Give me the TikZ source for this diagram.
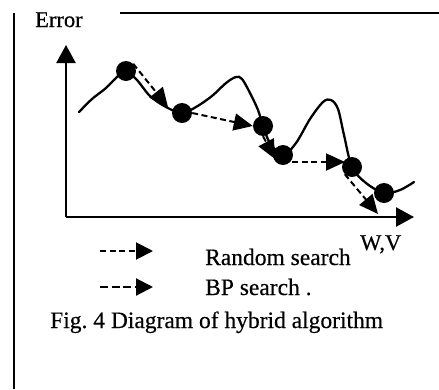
\documentclass[tikz,border=0pt]{standalone}
\usepackage{fontspec}
\setmainfont{Liberation Serif}
\newfontfamily\scanfont{Liberation Serif}[FakeBold=0.4]
\usetikzlibrary{arrows.meta}
\begin{document}
\begin{tikzpicture}[x=1pt,y=-1pt,
  dot/.style={circle,fill=black,inner sep=0pt,minimum size=20pt},
  axis/.style={line width=2.4pt,-{Triangle[length=18pt,width=19pt]}},
  dasharrow/.style={line width=2pt,dash pattern=on 6pt off 3.5pt,-{Triangle[length=19pt,width=17pt]}},
  lbl/.style={anchor=base west,inner sep=0pt,font=\scanfont\fontsize{23.5}{28}\selectfont}]
\useasboundingbox (0,0) rectangle (439,389);
\frenchspacing
% frame lines
\draw[line width=2pt] (14,13) -- (14,389);
\draw[line width=2pt] (120,13) -- (439,13);
\node[lbl,font=\scanfont\fontsize{22.5}{26}\selectfont] (err) at (35,27) {Error};
% axes
\coordinate (o) at (66,217);
\coordinate (ytip) at (66,45);
\coordinate (xtip) at (414,217);
\draw[axis] (o) -- (ytip);
\draw[axis] (o) -- (xtip);
% curve
\draw[line width=2.3pt,line cap=round] plot[smooth,tension=0.55] coordinates {
 (79,112) (92,99) (106,88) (118,76) (126,71) (137,80) (150,96) (166,107) (182,113)
 (196,107) (212,96) (226,83) (236,77) (242,79) (250,93) (258,110) (263,126)
 (270,143) (283,155) (296,143) (310,119) (323,102) (331,100) (338,109) (344,135) (352,167)
 (366,183) (384,193) (400,190) (414,182)};
% search arrows
\coordinate (t1) at (168,107);
\coordinate (t3) at (275,159);
\coordinate (s4) at (292,162);
\coordinate (t4) at (345,162);
\coordinate (t5) at (378,214);
% dots
\node[dot] (d1) at (126,71) {};
\node[dot] (d2) at (182,113) {};
\node[dot] (d3) at (263,126) {};
\node[dot] (d4) at (283,155) {};
\node[dot] (d5) at (352,167) {};
\node[dot] (d6) at (384,193) {};
\draw[dasharrow] (d1.north east) -- (t1);
\draw[dasharrow] (d2.east) -- (d3.west);
\draw[dasharrow] (d3.south) -- (t3);
\draw[dasharrow] (s4) -- (t4);
\draw[dasharrow] (d5.south west) -- (t5);
% legend
\coordinate (la1) at (100,251);
\coordinate (lb1) at (153,251);
\coordinate (la2) at (100,287);
\coordinate (lb2) at (153,287);
\draw[line width=2pt,dash pattern=on 6pt off 3.5pt,-{Triangle[length=17pt,width=17pt]}] (la1) -- (lb1);
\draw[line width=2.2pt,dash pattern=on 8pt off 3.5pt,-{Triangle[length=17pt,width=17pt]}] (la2) -- (lb2);
\node[lbl] (rs) at (205,265) {Random search};
\node[lbl,font=\scanfont\fontsize{22.5}{26}\selectfont] (wv) at (360,250) {W,V};
\node[lbl] (bp) at (205,295) {BP search .};
\node[lbl] (cap) at (50,328) {Fig. 4 Diagram of hybrid algorithm};
\end{tikzpicture}
\end{document}
